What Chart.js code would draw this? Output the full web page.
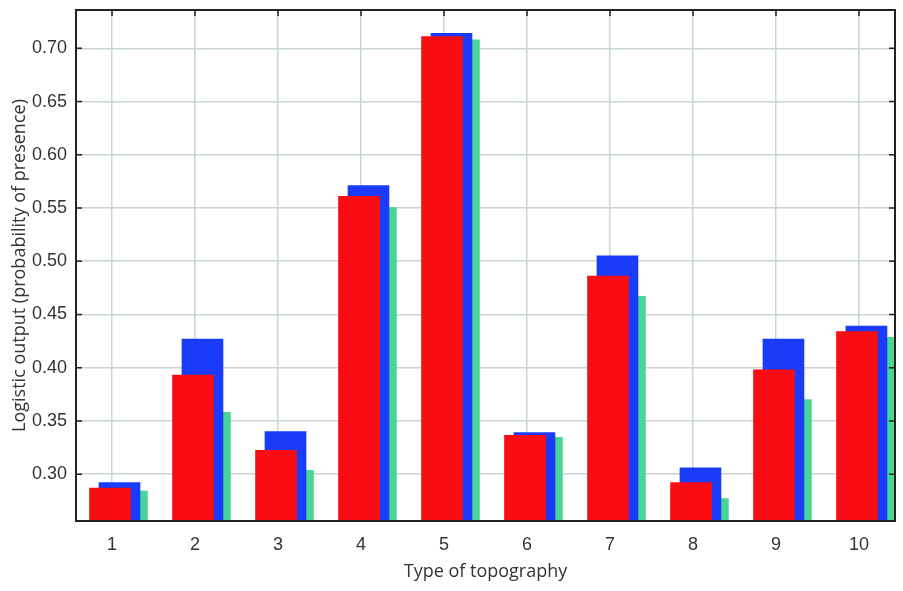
<!DOCTYPE html>
<html>
<head>
<meta charset="utf-8">
<script src="https://cdn.jsdelivr.net/npm/chart.js@4.4.1/dist/chart.umd.min.js"></script>
<style>
  html, body { margin: 0; padding: 0; background: #fff; }
  #wrap { width: 903px; height: 591px; }
</style>
</head>
<body>
<div id="wrap"><canvas id="myChart"></canvas></div>
<script>
// values
const categories = [1, 2, 3, 4, 5, 6, 7, 8, 9, 10];
const redValues   = [0.287, 0.393, 0.3225, 0.561, 0.711, 0.3365, 0.486, 0.292, 0.398, 0.434];
const blueValues  = [0.292, 0.427, 0.340, 0.571, 0.714, 0.339, 0.505, 0.306, 0.427, 0.439];
const greenValues = [0.284, 0.358, 0.3035, 0.5505, 0.708, 0.3345, 0.467, 0.277, 0.370, 0.4285];
const yTickValues = [0.30, 0.35, 0.40, 0.45, 0.50, 0.55, 0.60, 0.65, 0.70];

const textColor = '#333';
const gridColor = '#c9d5d5';

function toPoints(values, shift) {
    return values.map(function(v, i) { return { x: categories[i] + shift, y: v }; });
}

// frame around the plot plus the small inner tick marks
const framePlugin = {
    id: 'frame',
    afterDraw: function(chart) {
        const ctx = chart.ctx;
        const a = chart.chartArea;
        const xs = chart.scales.x, ys = chart.scales.y;
        ctx.save();
        ctx.strokeStyle = '#222';
        ctx.lineWidth = 1.5;
        ctx.beginPath();
        yTickValues.forEach(function(v) {
            const py = ys.getPixelForValue(v);
            ctx.moveTo(a.left, py); ctx.lineTo(a.left + 6, py);
            ctx.moveTo(a.right, py); ctx.lineTo(a.right - 6, py);
        });
        categories.forEach(function(c) {
            const px = xs.getPixelForValue(c);
            ctx.moveTo(px, a.top); ctx.lineTo(px, a.top + 6);
        });
        ctx.stroke();
        ctx.lineWidth = 2;
        ctx.strokeRect(a.left, a.top, a.right - a.left, a.bottom - a.top);
        ctx.restore();
    }
};

const ctx = document.getElementById('myChart').getContext('2d');
window.myChart = new Chart(ctx, {
    type: 'bar',
    data: {
        datasets: [
            { label: 'red', data: toPoints(redValues, -0.024), backgroundColor: '#fa0d12', order: 1 },
            { label: 'blue', data: toPoints(blueValues, 0.09), backgroundColor: '#1a3cfa', order: 2 },
            { label: 'green', data: toPoints(greenValues, 0.18), backgroundColor: '#48d696', order: 3 }
        ]
    },
    options: {
        responsive: true,
        maintainAspectRatio: false,
        animation: false,
        layout: { padding: { left: 0, top: 10, right: 8, bottom: 0 } },
        datasets: { bar: { grouped: false, barThickness: 41, borderWidth: 0 } },
        plugins: { legend: { display: false }, tooltip: { enabled: false } },
        scales: {
            x: {
                type: 'linear',
                offset: false,
                min: 0.566,
                max: 10.434,
                afterBuildTicks: function(s) { s.ticks = categories.map(function(c) { return { value: c }; }); },
                afterFit: function(s) { s.height = 70; },
                grid: { color: gridColor, lineWidth: 1.5, drawTicks: false, offset: false },
                border: { display: false },
                ticks: {
                    color: textColor,
                    font: { family: 'Liberation Sans', size: 18 },
                    padding: 13,
                    callback: function(v) { return v; }
                },
                title: {
                    display: true,
                    text: 'Type of topography',
                    color: textColor,
                    font: { family: 'Open Sans', size: 18 },
                    padding: { top: 0, bottom: 8 }
                }
            },
            y: {
                min: 0.256,
                max: 0.736,
                afterBuildTicks: function(s) { s.ticks = yTickValues.map(function(v) { return { value: v }; }); },
                afterFit: function(s) { s.width = 76; s.paddingTop = 0; s.paddingBottom = 0; },
                grid: { color: gridColor, lineWidth: 1.5, drawTicks: false },
                border: { display: false },
                ticks: {
                    color: textColor,
                    font: { family: 'Liberation Sans', size: 18 },
                    padding: 9,
                    callback: function(v) { return v.toFixed(2); }
                },
                title: {
                    display: true,
                    text: 'Logistic output (probability of presence)',
                    color: textColor,
                    font: { family: 'Open Sans', size: 18 },
                    padding: { top: 9, bottom: 0 }
                }
            }
        }
    },
    plugins: [framePlugin]
});
</script>
</body>
</html>
